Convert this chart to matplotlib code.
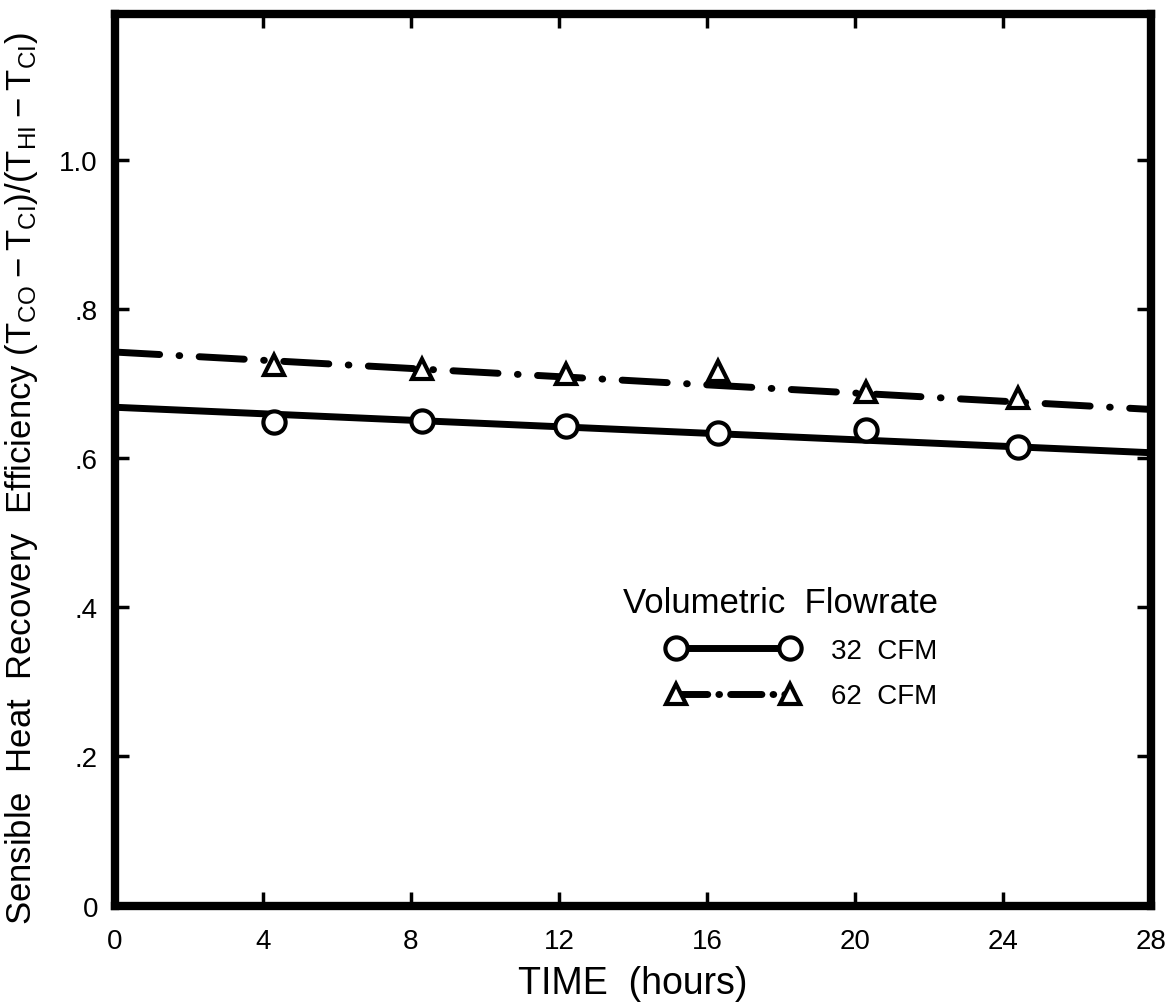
import matplotlib
matplotlib.use("Agg")
import matplotlib.pyplot as plt

# ---- data ----
time_h = [4.3, 8.3, 12.2, 16.3, 20.3, 24.4]
eff_32cfm = [0.648, 0.650, 0.643, 0.633, 0.637, 0.615]
eff_62cfm = [0.725, 0.719, 0.713, 0.717, 0.689, 0.680]
fit_x = [0, 28]
fit_32cfm = [0.668, 0.607]
fit_62cfm = [0.742, 0.665]
xticks = [0, 4, 8, 12, 16, 20, 24, 28]
xtick_labels = ["0", "4", "8", "12", "16", "20", "24", "28"]
yticks = [0, 0.2, 0.4, 0.6, 0.8, 1.0]
ytick_labels = ["0", ".2", ".4", ".6", ".8", "1.0"]
series_labels = ["32  CFM", "62  CFM"]

plt.rcParams['font.family'] = ['Liberation Sans', 'DejaVu Sans']
plt.rcParams['mathtext.default'] = 'regular'

fig = plt.figure(figsize=(11.69, 10.04), dpi=100)
ax = fig.add_axes([0.098, 0.097, 0.887, 0.888])

lw = 5
dd = (6.5, 2.8, 0.1, 2.8)
# fitted lines
ax.plot(fit_x, fit_32cfm, color='black', lw=lw, solid_capstyle='round')
ax.plot(fit_x, fit_62cfm, color='black', lw=lw,
        dashes=dd, dash_capstyle='round')
# data points
ax.plot(time_h, eff_32cfm, linestyle='none', marker='o', ms=16,
        mfc='white', mec='black', mew=3)
ax.plot(time_h, eff_62cfm, linestyle='none', marker='^', ms=15,
        mfc='white', mec='black', mew=3)

# legend handles
h32, = ax.plot([], [], color='black', lw=lw, marker='o', ms=16,
               mfc='white', mec='black', mew=3)
h62, = ax.plot([], [], color='black', lw=lw, marker='^', ms=15,
               mfc='white', mec='black', mew=3, dashes=(4.5, 1.6, 0.1, 1.6),
               dash_capstyle='round')
leg = ax.legend([h32, h62], series_labels, numpoints=2, frameon=False,
                title='Volumetric  Flowrate', title_fontsize=25, fontsize=20,
                loc='upper left', bbox_to_anchor=(0.49, 0.359),
                handlelength=4.7, handletextpad=1.2, labelspacing=0.7,
                borderaxespad=0, borderpad=0)
leg._legend_box.align = "right"

ax.set_xlim(0, 28)
ax.set_ylim(0, 1.195)
ax.set_xticks(xticks)
ax.set_xticklabels(xtick_labels)
ax.set_yticks(yticks)
ax.set_yticklabels(ytick_labels)
ax.tick_params(direction='in', length=10, width=2.5, top=True, right=True,
               labelsize=20)
ax.tick_params(axis='x', pad=16)
ax.tick_params(axis='y', pad=12)
for s in ax.spines.values():
    s.set_linewidth(6)

ax.set_xlabel('TIME  (hours)', fontsize=27, labelpad=8)
ax.set_ylabel(r'Sensible  Heat  Recovery  Efficiency $(T_{CO} - T_{CI})/(T_{HI} - T_{CI})$',
              fontsize=25, labelpad=14)
ax.yaxis.set_label_coords(-0.072, 0.48)

fig.savefig('out.png', dpi=100)
